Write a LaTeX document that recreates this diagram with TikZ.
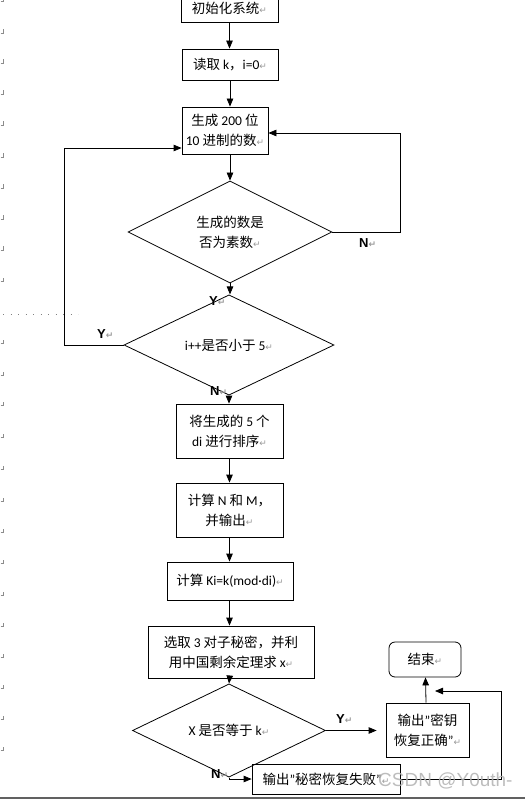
\documentclass[tikz,border=0pt]{standalone}
\usepackage{fontspec}
\setmainfont{Carlito}
\newfontfamily\cjk{Noto Sans CJK SC}
\newfontfamily\djv{DejaVu Sans}
\newfontfamily\lsans{Liberation Sans}
\usetikzlibrary{shapes.geometric,arrows.meta}
\newcommand\pmk{{\djv\color{black!40}\fontsize{9}{9}\selectfont ↵}}
\newcommand\Lt[1]{{\rmfamily #1}}
\begin{document}
\begin{tikzpicture}[x=1pt,y=-1pt,
  txt/.style={font=\cjk\fontsize{13.5}{20}\selectfont,align=center},
  box/.style={txt,draw,line width=0.8pt,inner sep=0pt},
  dia/.style={txt,draw,diamond,line width=0.8pt,inner sep=0pt},
  lbl/.style={font=\lsans\bfseries\fontsize{13}{13}\selectfont,inner sep=0pt,anchor=west},
  arr/.style={line width=0.8pt,-{Triangle[length=8pt,width=6.5pt]}},
  ln/.style={line width=0.8pt}]
\useasboundingbox (0,0) rectangle (525,799);

% margin marks
\foreach \yy in {1,33,63,94,125,157,188,219,250,281,343,375,405,437,469,501,532,563,595,626,657,688,719,750}
  \draw[black!45,line width=0.6pt] (0.5,\yy) -- (3.5,\yy) -- (3.5,\yy-3.5);
\draw[black!50,line width=0.9pt,dash pattern=on 1.2pt off 6.3pt] (3,314) -- (78,314);

% nodes
\node[box,minimum width=97pt,minimum height=28pt] (init) at (229.5,8) {初始化系统\pmk};
\node[box,minimum width=96pt,minimum height=31pt] (read) at (230,64.5) {读取 \Lt{k}，\Lt{i=0}\pmk};
\node[box,minimum width=86pt,minimum height=47pt] (gen) at (225,130.5) {生成 \Lt{200} 位\\\Lt{10} 进制的数\pmk};
\node[dia,minimum width=204pt,minimum height=102pt] (dia1) at (230,232) {生成的数是\\否为素数\pmk};
\node[dia,minimum width=210pt,minimum height=66pt] (dia2) at (229,345) {\Lt{i++}是否小于 \Lt{5}\pmk};
\node[box,minimum width=107pt,minimum height=54pt] (sort) at (229.5,431) {将生成的 \Lt{5} 个\\\Lt{di} 进行排序\pmk};
\node[box,minimum width=107pt,minimum height=54pt] (nm) at (229.5,510) {计算 \Lt{N} 和 \Lt{M}，\\并输出\pmk};
\node[box,minimum width=126pt,minimum height=38pt] (ki) at (230,581) {计算 \Lt{Ki=k(mod·di)}\pmk};
\node[box,minimum width=166pt,minimum height=52pt] (crt) at (231,652) {选取 \Lt{3} 对子秘密，并利\\用中国剩余定理求 \Lt{x}\pmk};
\node[dia,minimum width=193pt,minimum height=55pt] (dia3) at (229,730.5) {\Lt{X} 是否等于 \Lt{k}\pmk};
\node[box,minimum width=83pt,minimum height=54pt] (ok) at (427.5,730) {输出\Lt{”}密钥\\恢复正确\Lt{”}\pmk};
\node[box,rounded corners=6pt,minimum width=72pt,minimum height=35pt] (end) at (425,659.5) {结束\pmk};
\node[box,minimum width=148pt,minimum height=30pt] (fail) at (326,779) {输出\Lt{”}秘密恢复失败\Lt{”}\pmk};
\coordinate (loopend) at (435,691);

% connectors
\draw[arr] (init.south) -- (init.south |- read.north);
\draw[arr] (read.south) -- (read.south |- gen.north);
\draw[arr] (read.south |- gen.south) -- (dia1.north);
\draw[arr] (dia1.south) -- (dia1.south |- dia2.north);
\draw[arr] (dia2.south) -- (dia2.south |- sort.north);
\draw[arr] (sort.south) -- (sort.south |- nm.north);
\draw[arr] (nm.south) -- (nm.south |- ki.north);
\draw[arr] (nm.south |- ki.south) -- (nm.south |- crt.north);
\draw[arr] (nm.south |- crt.south) -- (dia3.north);
\draw[arr] (dia1.east) -- ++(68,0) |- ([yshift=-2.5pt]gen.east);
\draw[arr] (dia2.west) -- ++(-59,0) |- ([yshift=-17.5pt]gen.west);
\draw[arr,shorten >=9pt] (dia3.east) -- (dia3.east -| ok.west);
\draw[arr] ([xshift=-1.5pt]ok.north) -- ([xshift=0.5pt]end.south);
\draw[arr] (dia3.south) |- (fail.west);
\draw[arr] (fail.east) -- ++(101,0) |- (loopend);

% labels
\node[lbl] (lN1) at (359,243) {N\pmk};
\node[lbl] (lY1) at (209,301) {Y\pmk};
\node[lbl] (lY2) at (97,334) {Y\pmk};
\node[lbl] (lN2) at (210,391) {N\pmk};
\node[lbl] (lY3) at (336,719) {Y\pmk};
\node[lbl] (lN3) at (211,774) {N\pmk};

% watermark and bottom bar
\node[font=\lsans\fontsize{19}{19}\selectfont,text=black!30,text opacity=0.85,anchor=west,inner sep=0pt] (wm) at (378,781) {CSDN @Y0uth-};
\fill[black!62] (0,796.5) rectangle (525,799);
\end{tikzpicture}
\end{document}
